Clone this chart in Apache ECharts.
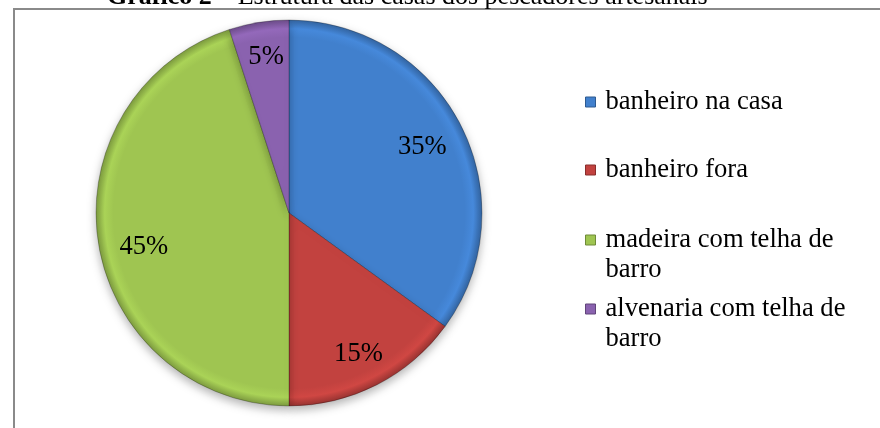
<!DOCTYPE html>
<html>
<head>
<meta charset="utf-8">
<script src="https://cdn.jsdelivr.net/npm/echarts@6/dist/echarts.min.js"></script>
<style>
  html, body { margin: 0; padding: 0; background: #ffffff; }
  #chart { width: 880px; height: 428px; }
</style>
</head>
<body>
<div id="chart"></div>
<script>
// Estrutura das casas dos pescadores artesanais (percentuais)
const categories = [
  'banheiro na casa',
  'banheiro fora',
  'madeira com telha de barro',
  'alvenaria com telha de barro'
];
const percentages = [35, 15, 45, 5];
const sliceColors = ['#4180cd', '#c2423f', '#9fc551', '#8a62af'];
const titleBold = 'Gráfico 2';
const titleRest = ' – Estrutura das casas dos pescadores artesanais';

const serif = '"Liberation Serif", "Times New Roman", serif';
const fontSize = 26.6;

const center = [289, 213];
const pieRadius = 193;

// scale a hex colour's channels by a factor
function shade(hex, f) {
  const n = parseInt(hex.slice(1), 16);
  const c = [(n >> 16) & 255, (n >> 8) & 255, n & 255].map(v => Math.min(255, Math.round(v * f)));
  return 'rgb(' + c.join(',') + ')';
}

// bevelled look around the whole disc: flat body, lighter rim band, dark outer edge
function bevel(hex) {
  return {
    type: 'radial', x: center[0], y: center[1], r: pieRadius, global: true,
    colorStops: [
      { offset: 0, color: hex },
      { offset: 0.91, color: hex },
      { offset: 0.955, color: shade(hex, 1.07) },
      { offset: 1, color: shade(hex, 0.78) }
    ]
  };
}

const pieData = categories.map((name, i) => ({
  name: name,
  value: percentages[i],
  itemStyle: { color: bevel(sliceColors[i]) }
}));

const labelData = categories.map((name, i) => ({ name: name, value: percentages[i] }));

const legendTops = [87, 155, 195, 264];

const legends = categories.map((name, i) => {
  const twoLine = name.length > 20;
  return {
    orient: 'vertical',
    left: 585,
    top: legendTops[i],
    padding: 0,
    itemWidth: 10,
    itemHeight: 10,
    itemGap: 0,
    icon: 'rect',
    selectedMode: false,
    // a leading blank line keeps the swatch level with the first text line
    formatter: n => (twoLine ? '\n' : '') + n,
    data: [{ name: name, itemStyle: { color: sliceColors[i], borderColor: shade(sliceColors[i], 0.7), borderWidth: 1 } }],
    textStyle: {
      fontFamily: serif,
      fontSize: fontSize,
      color: '#000',
      lineHeight: 30,
      width: 260,
      overflow: 'break',
      padding: [0, 0, 0, 5]
    }
  };
});

const chart = echarts.init(document.getElementById('chart'), null, { renderer: 'canvas' });
chart.setOption({
  backgroundColor: '#ffffff',
  animation: false,
  legend: legends,
  graphic: [
    {
      type: 'rect',
      shape: { x: 14, y: 9, width: 1000, height: 1000 },
      style: { fill: 'none', stroke: '#8a8a8a', lineWidth: 2 },
      silent: true
    },
    {
      type: 'text',
      x: 107,
      y: -16,
      style: {
        text: '{b|' + titleBold + '}' + titleRest,
        fontFamily: serif,
        fontSize: 26,
        fill: '#000',
        rich: { b: { fontFamily: serif, fontSize: 26, fontWeight: 'bold', fill: '#000' } }
      },
      silent: true
    }
  ],
  series: [
    {
      type: 'pie',
      center: center,
      radius: [0, pieRadius],
      startAngle: 90,
      clockwise: true,
      silent: true,
      label: { show: false },
      labelLine: { show: false },
      itemStyle: {
        borderColor: 'rgba(0,0,0,0.25)',
        borderWidth: 1,
        shadowBlur: 10,
        shadowOffsetY: 4,
        shadowColor: 'rgba(0,0,0,0.3)'
      },
      data: pieData
    },
    {
      // label ring: carries the percentage text at ~3/4 of the radius
      type: 'pie',
      center: center,
      radius: [107, pieRadius],
      startAngle: 90,
      clockwise: true,
      silent: true,
      itemStyle: { color: 'rgba(0,0,0,0)' },
      label: {
        show: true,
        position: 'inside',
        formatter: '{c}%',
        fontFamily: serif,
        fontSize: fontSize,
        color: '#000'
      },
      labelLayout: function (p) {
        const nudge = [[-3, 3], [0, 5], [6, 10], [1, -5]];
        return { dx: nudge[p.dataIndex][0], dy: nudge[p.dataIndex][1] };
      },
      labelLine: { show: false },
      data: labelData
    }
  ]
});
</script>
</body>
</html>
